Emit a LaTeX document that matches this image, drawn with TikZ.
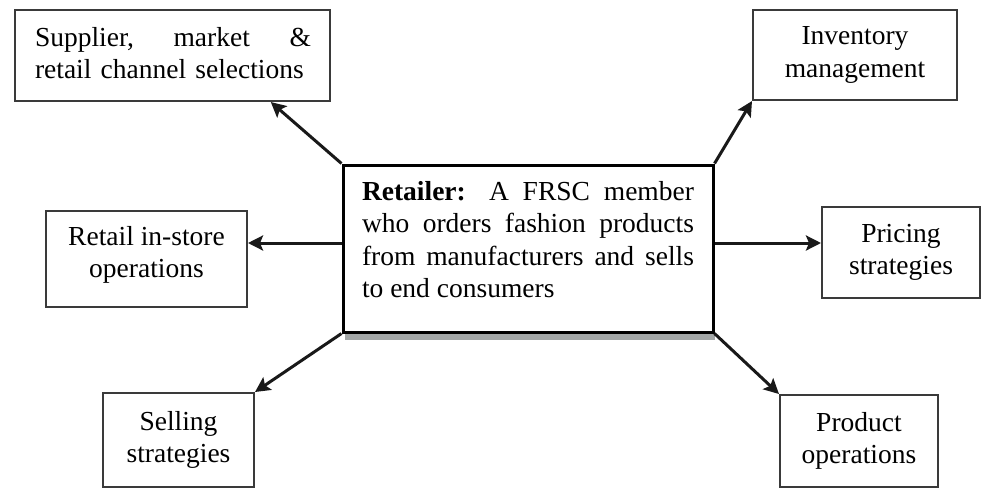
\documentclass[tikz,border=0pt]{standalone}
\usepackage{fontspec}
\setmainfont{Liberation Serif}
\usetikzlibrary{arrows.meta,shadows,calc}
\definecolor{boxline}{HTML}{3A3A3A}
\definecolor{shadowgray}{HTML}{A3A7A7}
\begin{document}
\begin{tikzpicture}[x=1pt,y=-1pt,
  every node/.style={font=\fontsize{27.5}{32.5}\selectfont, text=black},
  smallbox/.style={draw=boxline, line width=2pt, fill=white, align=center, inner sep=0pt},
  centerbox/.style={draw=black, line width=3pt, fill=white, inner sep=0pt,
    drop shadow={shadow xshift=2pt, shadow yshift=-8pt, fill=shadowgray, opacity=1}},
  arr/.style={line width=3pt, draw=black!90, -{Stealth[length=15pt,width=15pt,inset=3pt]}}]
\useasboundingbox (0,0) rectangle (984,488);
% centre
\node[centerbox, minimum width=370pt, minimum height=167pt] (ret) at (528,248.5) {};
\node[text width=332pt, align=justify, anchor=north, inner sep=0pt] (rettext) at (528,181)
  {\hyphenpenalty=10000 \textbf{Retailer:} A FRSC member who orders fashion products from manufacturers and sells to end consumers};
% outer boxes
\node[smallbox, minimum width=315pt, minimum height=91pt] (sup) at (172.5,55.5) {};
\node[text width=276pt, align=left, inner sep=0pt] (suptext) at (173,53)
  {Supplier,\hfill market\hfill \&\\retail channel selections};
\node[smallbox, minimum width=204pt, minimum height=90pt] (inv) at (855,55) {Inventory\\management};
\node[smallbox, minimum width=201pt, minimum height=96pt] (rin) at (146.5,259) {};
\node[align=center, inner sep=0pt] (rintext) at (146.5,255) {Retail in-store\\operations};
\node[smallbox, minimum width=158pt, minimum height=91pt] (pri) at (901,252.5) {Pricing\\strategies};
\node[smallbox, minimum width=151pt, minimum height=94pt] (sel) at (178.5,440) {Selling\\strategies};
\node[smallbox, minimum width=158pt, minimum height=92pt] (pro) at (859,441) {Product\\operations};
% connectors
\coordinate (supin) at ($(sup.south west)!0.81!(sup.south east)$);
\coordinate (ly) at (0,243);
\draw[arr] (ret.north west) -- (supin);
\draw[arr] (ret.north east) -- (inv.south west);
\draw[arr] (ret.west |- ly) -- (rin.east |- ly);
\draw[arr] (ret.east |- ly) -- (pri.west |- ly);
\draw[arr] (ret.south west) -- (sel.north east);
\draw[arr] (ret.south east) -- (pro.north west);
\end{tikzpicture}
\end{document}
